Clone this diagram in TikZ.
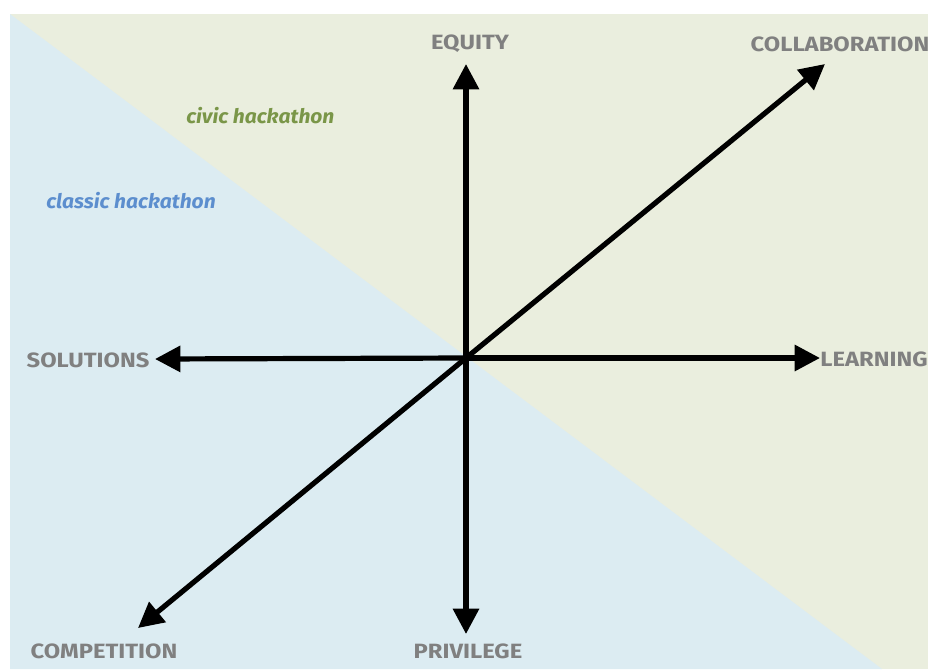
\documentclass[tikz,border=0pt]{standalone}
\usepackage{fontspec}
\usetikzlibrary{arrows.meta}
\newfontfamily\axisfont[FakeStretch=1.15]{Fira Sans}
\newfontfamily\zonefont[FakeStretch=1.05]{Fira Sans}

\definecolor{zoneblue}{RGB}{220,236,242}
\definecolor{zonegreen}{RGB}{234,238,222}
\definecolor{labelgray}{RGB}{128,128,128}
\definecolor{civicgreen}{RGB}{122,150,72}
\definecolor{classicblue}{RGB}{92,142,206}

\tikzset{
    axis/.style={line width=3.9pt, -{Triangle[length=19pt, width=19pt]}},
    axislabel/.style={font=\axisfont\bfseries\fontsize{15.5}{15.5}\selectfont, text=labelgray, inner sep=0pt},
    zonelabel/.style={font=\zonefont\bfseries\itshape\fontsize{15}{15}\selectfont, inner sep=0pt},
}

\begin{document}
\begin{tikzpicture}[x=0.75pt, y=-0.75pt]

\useasboundingbox (0,0) rectangle (928,669);

% === Background zones (split along the diagonal through the origin) ===
\def\left{10}
\def\top{14}
\fill[zonegreen] (\left,\top) rectangle (928,669);
\fill[zoneblue] (\left,\top) -- (\left,669) -- (882,669) -- cycle;

% Zone names
\node[zonelabel, text=civicgreen, anchor=west] (civic) at (186,116) {civic hackathon};
\node[zonelabel, text=classicblue, anchor=west] (classic) at (46,201) {classic hackathon};

% === Axes ===
\coordinate (o) at (466,358);
\coordinate (up) at (466,64);
\coordinate (down) at (466,634);
\coordinate (west) at (155,359);
\coordinate (east) at (820,358);
\coordinate (ne) at (825,64);
\coordinate (sw) at (138,628);

\draw[axis] (o) -- (up);
\draw[axis] (o) -- (down);
\draw[axis] (o) -- (west);
\draw[axis] (o) -- (east);
\draw[axis] (o) -- (ne);
\draw[axis] (o) -- (sw);

% Axis names
\node[axislabel] (equity) at (470,44) {EQUITY};
\node[axislabel] (collab) at (840,44) {COLLABORATION};
\node[axislabel] (solutions) at (88,360) {SOLUTIONS};
\node[axislabel] (learning) at (874,359) {LEARNING};
\node[axislabel] (competition) at (104,651) {COMPETITION};
\node[axislabel] (privilege) at (468,651) {PRIVILEGE};

\end{tikzpicture}
\end{document}
